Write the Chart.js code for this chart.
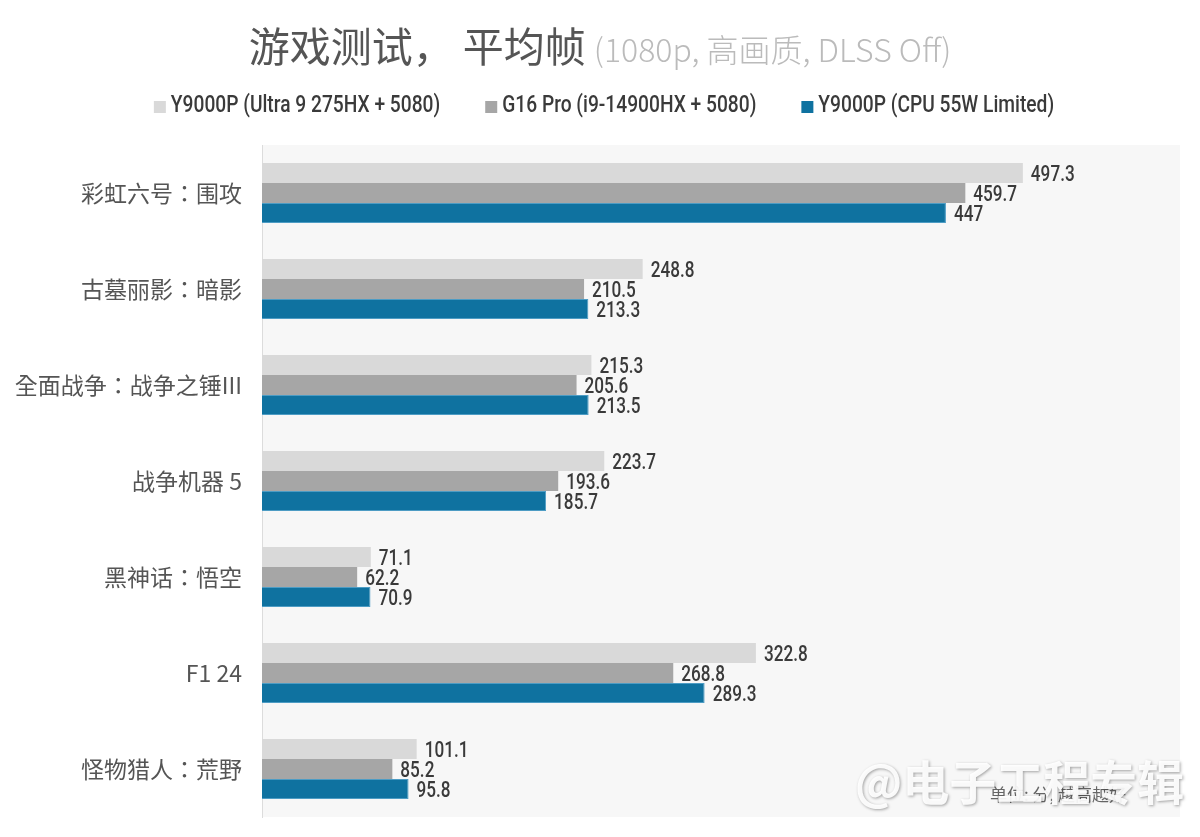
<!DOCTYPE html>
<html><head><meta charset="utf-8">
<script src="https://cdn.jsdelivr.net/npm/chart.js@4.4.1/dist/chart.umd.min.js"></script>
<style>
html,body{margin:0;padding:0;background:#fff;}
#wrap{position:relative;width:1200px;height:837px;overflow:hidden;}
#title{position:absolute;left:0;top:14px;width:1200px;text-align:center;white-space:nowrap;}
#title .m{font-size:41px;color:#555;font-family:"Noto Sans CJK SC",sans-serif;}
#title .s{font-size:32px;color:#bbb;font-family:"Noto Sans CJK SC",sans-serif;font-weight:300;margin-left:4px;}
#unit{position:absolute;left:990px;top:781px;font-family:"Noto Sans CJK SC",sans-serif;font-size:17px;color:#666;}
#wm{position:absolute;left:855px;top:745px;font-family:"Noto Sans CJK SC",sans-serif;font-size:47px;font-weight:bold;color:rgba(255,255,255,0.92);text-shadow:1px 1px 3px rgba(0,0,0,0.35);white-space:nowrap;}
</style></head>
<body><div id="wrap">
<canvas id="c" width="1200" height="837"></canvas>
<div id="title"><span class="m">游戏测试， 平均帧</span> <span class="s">(1080p, 高画质, DLSS Off)</span></div>
<div id="unit">单位: 分, 越高越好</div>
<div id="wm">@电子工程专辑</div>
</div>
<script>
const categories = ["彩虹六号：围攻","古墓丽影：暗影","全面战争：战争之锤III","战争机器 5","黑神话：悟空","F1 24","怪物猎人：荒野"];
const seriesNames = ["Y9000P (Ultra 9 275HX + 5080)","G16 Pro (i9-14900HX + 5080)","Y9000P (CPU 55W Limited)"];
const ultra = [497.3, 248.8, 215.3, 223.7, 71.1, 322.8, 101.1];
const g16 = [459.7, 210.5, 205.6, 193.6, 62.2, 268.8, 85.2];
const limited = [447, 213.3, 213.5, 185.7, 70.9, 289.3, 95.8];
const labelStrings = [
  ["497.3","248.8","215.3","223.7","71.1","322.8","101.1"],
  ["459.7","210.5","205.6","193.6","62.2","268.8","85.2"],
  ["447","213.3","213.5","185.7","70.9","289.3","95.8"]
];
const colors = ["#d9d9d9","#a6a6a6","#0f72a0"];
const narrowFont = 'Roboto, sans-serif';
const SQUEEZE = 0.78;

const bgPlugin = {
  id:'bg',
  beforeDraw(chart){
    const {ctx, chartArea:a} = chart;
    ctx.save();
    ctx.fillStyle = '#f7f7f7';
    ctx.fillRect(a.left, a.top, 1180 - a.left, a.bottom - a.top);
    ctx.restore();
  }
};
const valPlugin = {
  id:'vals',
  afterDatasetsDraw(chart){
    const ctx = chart.ctx;
    ctx.save();
    ctx.font = '500 22px ' + narrowFont;
    ctx.fillStyle = '#3a3a3a';
    ctx.textBaseline = 'middle';
    ctx.textAlign = 'left';
    chart.data.datasets.forEach((ds, di) => {
      chart.getDatasetMeta(di).data.forEach((el, i) => {
        ctx.save();
        ctx.translate(el.x + 8, el.y + 2);
        ctx.scale(SQUEEZE, 1);
        ctx.fillText(labelStrings[di][i], 0, 0);
        ctx.restore();
      });
    });
    ctx.restore();
  }
};
const legendPlugin = {
  id:'narrowLegend',
  afterDraw(chart){
    const ctx = chart.ctx;
    ctx.save();
    ctx.font = '500 24px ' + narrowFont;
    ctx.textBaseline = 'middle';
    const box = 12, gapBox = 5, gapItem = 45, sq = 0.8;
    const widths = seriesNames.map(n => ctx.measureText(n).width * sq);
    const total = widths.reduce((s,w)=>s+w+box+gapBox,0) + gapItem*(seriesNames.length-1);
    let x = 604 - total/2;
    const y = 106;
    seriesNames.forEach((n, i) => {
      ctx.fillStyle = colors[i];
      ctx.fillRect(x, y - box/2 + 1, box, box);
      x += box + gapBox;
      ctx.fillStyle = '#3a3a3a';
      ctx.save();
      ctx.translate(x, y);
      ctx.scale(sq, 1);
      ctx.fillText(n, 0, 0);
      ctx.restore();
      x += widths[i] + gapItem;
    });
    ctx.restore();
  }
};

new Chart(document.getElementById('c'), {
  type:'bar',
  data:{
    labels: categories,
    datasets:[
      {label: seriesNames[0], data: ultra, backgroundColor: colors[0]},
      {label: seriesNames[1], data: g16, backgroundColor: colors[1]},
      {label: seriesNames[2], data: limited, backgroundColor: colors[2], borderColor:'#4d9cc4', borderWidth:1}
    ]
  },
  options:{
    indexAxis:'y',
    responsive:false,
    animation:false,
    layout:{padding:{top:145,bottom:20,right:20,left:0}},
    datasets:{bar:{barPercentage:1, categoryPercentage:0.625}},
    plugins:{
      legend:{display:false},
      title:{display:false},
      tooltip:{enabled:false}
    },
    scales:{
      x:{display:false, min:0, max:600},
      y:{
        grid:{display:false},
        border:{display:true, color:'#dcdcdc'},
        ticks:{font:{family:'"Noto Sans CJK TC",sans-serif', size:23}, color:'#555', padding:12},
        afterFit(scale){ scale.width = 262; scale.paddingTop = 0; scale.paddingBottom = 0; }
      }
    }
  },
  plugins:[bgPlugin, valPlugin, legendPlugin]
});
</script>
</body></html>
